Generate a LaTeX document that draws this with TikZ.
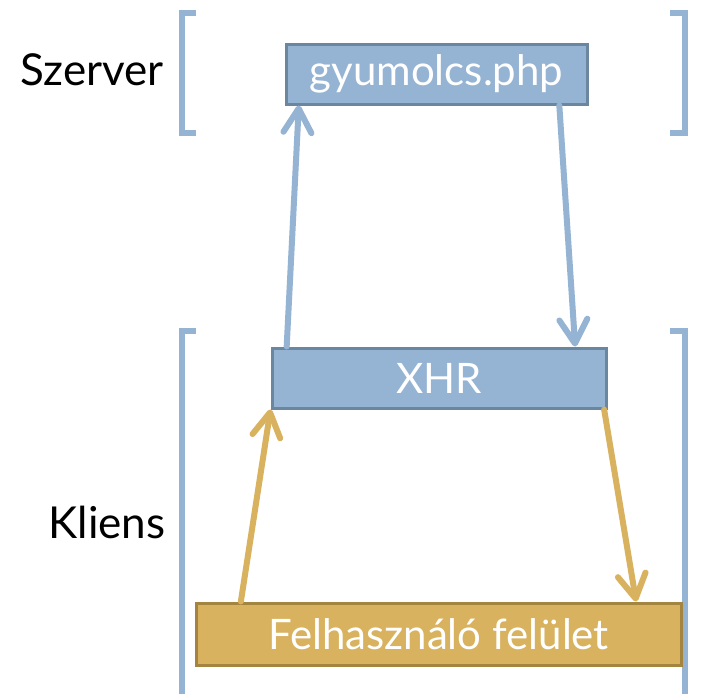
\documentclass[tikz,border=0pt]{standalone}
\usepackage{fontspec}
\setmainfont{Lato}
\usetikzlibrary{arrows.meta,calc}
\definecolor{bfill}{HTML}{95B3D3}
\definecolor{bdraw}{HTML}{6B87A0}
\definecolor{gfill}{HTML}{D8B25E}
\definecolor{gdraw}{HTML}{A3853F}
\tikzset{
  bluebox/.style={draw=bdraw,fill=bfill,line width=3pt,inner sep=0pt,text=white,font=\fontsize{42}{48}\selectfont},
  goldbox/.style={draw=gdraw,fill=gfill,line width=3pt,inner sep=0pt,text=white,font=\fontsize{42}{48}\selectfont},
  bracket/.style={draw=bfill,line width=6.5pt},
  bluearrow/.style={draw=bfill,line width=6pt,line cap=round,-{Straight Barb[length=24pt,width=28pt,round]}},
  goldarrow/.style={draw=gfill,line width=6pt,line cap=round,-{Straight Barb[length=24pt,width=28pt,round]}},
  lbl/.style={font=\fontsize{44}{50}\selectfont,text=black,inner sep=0pt}
}
\begin{document}
\begin{tikzpicture}[x=1pt,y=-1pt]
\useasboundingbox[fill=white] (0,0) rectangle (706,694);
% brackets
\draw[bracket] (196,13) -- (182,13) -- (182,133) -- (196,133);
\draw[bracket] (670,13) -- (685,13) -- (685,133) -- (670,133);
\draw[bracket] (196,331) -- (182,331) -- (182,694);
\draw[bracket] (670,331) -- (685,331) -- (685,694);
% boxes
\node[bluebox,minimum width=301pt,minimum height=60pt] (gy) at (436.5,74) {gyumolcs.php};
\node[bluebox,minimum width=334pt,minimum height=60pt] (xhr) at (439,378) {XHR};
\node[goldbox,minimum width=485pt,minimum height=62pt] (ui) at (438.5,634) {Felhasználó felület};
% labels
\node[lbl] (szerver) at (92,70) {Szerver};
\node[lbl] (kliens) at (107,522) {Kliens};
% arrows
\draw[bluearrow] ($(xhr.north west)!0.048!(xhr.north east)$) -- ($(gy.south west)!0.047!(gy.south east)$);
\draw[bluearrow] ($(gy.south west)!0.904!(gy.south east)$) -- ($(xhr.north west)!0.904!(xhr.north east)$);
\draw[goldarrow] ($(ui.north west)!0.095!(ui.north east)$) -- (xhr.south west);
\draw[goldarrow] ($(xhr.south west)!0.99!(xhr.south east)$) -- ($(ui.north west)!0.905!(ui.north east)$);
\end{tikzpicture}
\end{document}
